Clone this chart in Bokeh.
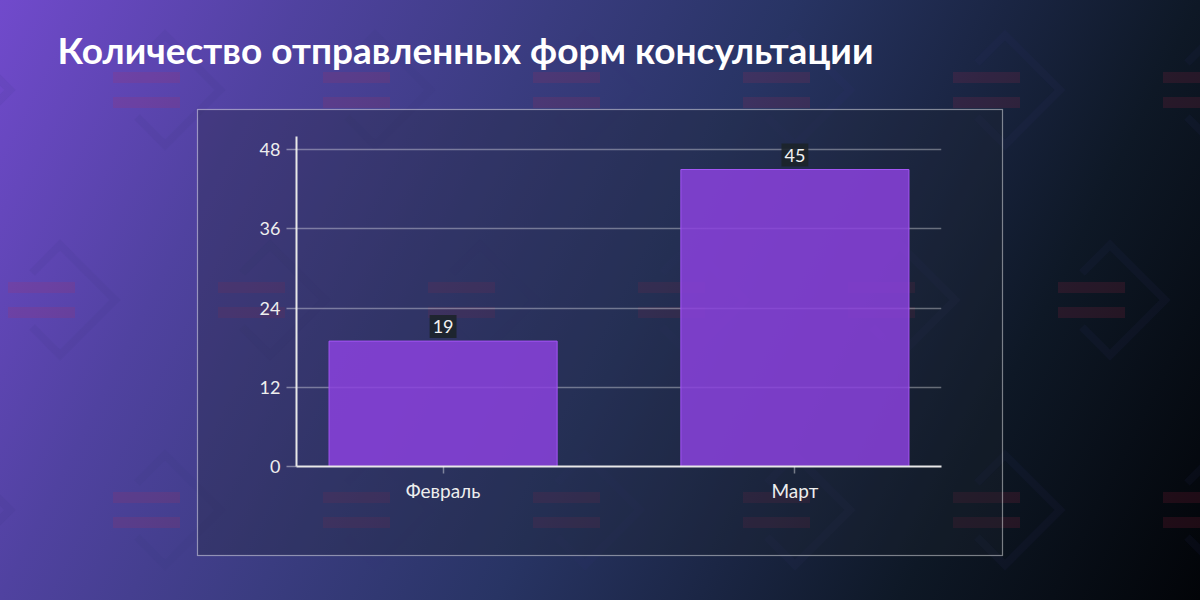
import urllib.parse
from bokeh.plotting import figure
from bokeh.models import FactorRange, Range1d, FixedTicker, ColumnDataSource, Title
from bokeh.embed import file_html
from bokeh.resources import INLINE
from bokeh.core.properties import value

# ---- data ----
months = ["Февраль", "Март"]
counts = [19, 45]
count_labels = ["19", "45"]
y_ticks = [0, 12, 24, 36, 48]
y_max = 50
title_text = "Количество отправленных форм консультации"

W, H = 1200, 600

# ---- decorative background (gradient + faint icons + panel) ----
svg = [f'<svg xmlns="http://www.w3.org/2000/svg" width="{W}" height="{H}" viewBox="0 0 {W} {H}">']
for r, cy in enumerate([90, 300, 510]):
    x0 = 8 if r == 1 else 113
    for k in range(-1, 7):
        sx = x0 + 210 * k
        cx = sx + 52
        svg.append(f'<path d="M {cx-28} {cy-27} L {cx} {cy-55} L {cx+55} {cy} L {cx} {cy+55} L {cx-28} {cy+27}" '
                   f'fill="none" stroke="rgb(50,50,120)" stroke-opacity="0.09" stroke-width="8"/>')
        svg.append(f'<rect x="{sx}" y="{cy-18}" width="67" height="11" fill="rgb(200,40,80)" fill-opacity="0.14"/>')
        svg.append(f'<rect x="{sx}" y="{cy+7}" width="67" height="11" fill="rgb(200,40,80)" fill-opacity="0.14"/>')
svg.append('<rect x="197.5" y="109.5" width="805" height="446" fill="rgb(30,35,45)" fill-opacity="0.3" '
           'stroke="white" stroke-opacity="0.45" stroke-width="1.2"/>')
svg.append('</svg>')
svg_uri = "data:image/svg+xml," + urllib.parse.quote("".join(svg))
gradient = ("linear-gradient(116.6deg, rgb(113,74,204) 0%, rgb(80,66,160) 20%, rgb(58,60,128) 37%, "
            "rgb(40,52,100) 53%, rgb(14,24,38) 80%, rgb(2,4,8) 100%)")

src = ColumnDataSource(dict(month=months, count=counts, label=count_labels))

p = figure(width=W, height=H, title=None,
           x_range=FactorRange(factors=months, factor_padding=0.2),
           y_range=Range1d(0, y_max),
           output_backend="svg", toolbar_location=None,
           min_border_left=296, min_border_right=259,
           min_border_top=136, min_border_bottom=134)
p.styles = {"background": f'url("{svg_uri}") no-repeat, {gradient}'}
p.background_fill_color = None
p.border_fill_color = None
p.outline_line_color = None

# spacer between frame and title (pushes the title up), then the title itself
p.add_layout(Title(text=" ", text_font_size="10px", standoff=50), "above")
p.add_layout(Title(text=title_text, text_font="Lato", text_font_style="bold",
                   text_font_size="37px", text_color="white", align="left",
                   vertical_align="top", offset=-239, standoff=0), "above")

# grid
p.xgrid.grid_line_color = None
p.ygrid.ticker = FixedTicker(ticks=y_ticks)
p.ygrid.grid_line_color = "white"
p.ygrid.grid_line_alpha = 0.35
p.ygrid.grid_line_width = 1.5

# axes
p.yaxis.ticker = FixedTicker(ticks=y_ticks)
for ax in (p.xaxis[0], p.yaxis[0]):
    ax.axis_line_color = "#e8e8e8"
    ax.axis_line_width = 2
    ax.major_tick_line_color = "white"
    ax.major_tick_line_alpha = 0.4
    ax.major_tick_line_width = 1.5
    ax.major_tick_in = 0
    ax.minor_tick_line_color = None
    ax.major_label_text_font = "Lato"
    ax.major_label_text_color = "#eeeeee"
p.yaxis.major_tick_out = 10
p.yaxis.major_label_standoff = 6
p.yaxis.major_label_text_font_size = "18px"
p.xaxis.major_tick_out = 7
p.xaxis.major_label_standoff = 5
p.xaxis.major_label_text_font_size = "19px"

# bars
p.vbar(x="month", top="count", width=0.778, source=src,
       fill_color="#8b42de", fill_alpha=0.85, line_color="#a355f5", line_width=1)

# value labels
p.text(x="month", y="count", text="label", source=src,
       anchor="bottom_center", y_offset=-3,
       text_font=value("Lato"), text_font_size="18px", text_color="#f2f2f2",
       background_fill_color="#1c242a", background_fill_alpha=0.9, padding=(3, 5))

open("out.html", "w").write(file_html(p, INLINE))
